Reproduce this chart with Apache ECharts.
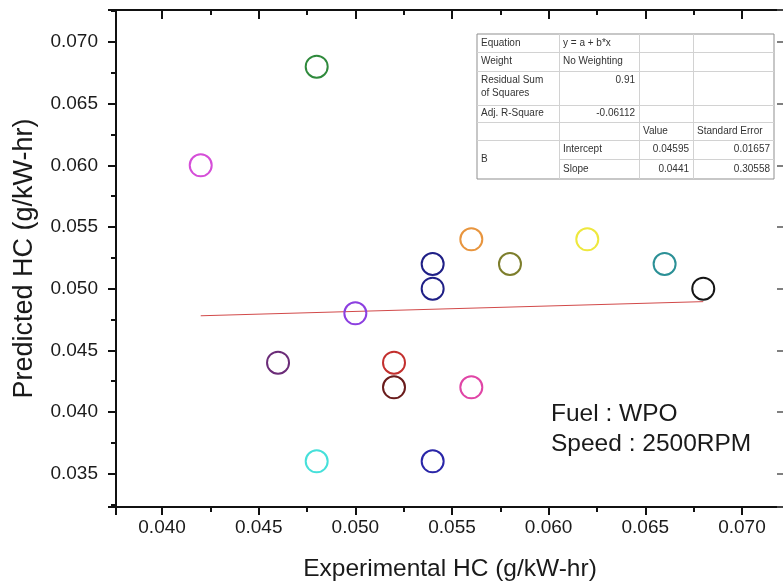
<!DOCTYPE html>
<html>
<head>
<meta charset="utf-8">
<script src="https://cdn.jsdelivr.net/npm/echarts@6/dist/echarts.min.js"></script>
<style>
html, body { margin: 0; padding: 0; background: #fff; }
#main { width: 783px; height: 585px; }
</style>
</head>
<body>
<div id="main"></div>
<script>
// experimental vs predicted HC (g/kW-hr)
var expHC  = [0.042, 0.048, 0.056, 0.058, 0.062, 0.066, 0.068, 0.054, 0.054, 0.050, 0.046, 0.052, 0.052, 0.056, 0.048, 0.054];
var predHC = [0.060, 0.068, 0.054, 0.052, 0.054, 0.052, 0.050, 0.052, 0.050, 0.048, 0.044, 0.044, 0.042, 0.042, 0.036, 0.036];
var pointColors = ['#d54ed8', '#2f8a3c', '#e8953e', '#7d7e2c', '#eee83e', '#2b9096', '#151515', '#1f1f86',
                   '#1f1f86', '#8c3fe0', '#6b2c78', '#c3302e', '#6a1c1c', '#e045a6', '#46e0da', '#2a26a8'];

// linear fit (from the Origin table)
var fitIntercept = 0.04595;
var fitSlope = 0.0441;
var fitRange = [0.042, 0.068];

// fit table text: [col, row, text, align]
var tableText = [
  [0, 0, 'Equation', 'left'], [1, 0, 'y = a + b*x', 'left'],
  [0, 1, 'Weight', 'left'], [1, 1, 'No Weighting', 'left'],
  [0, 2, 'Residual Sum\nof Squares', 'left'], [1, 2, '0.91', 'right'],
  [0, 3, 'Adj. R-Square', 'left'], [1, 3, '-0.06112', 'right'],
  [2, 4, 'Value', 'left'], [3, 4, 'Standard Error', 'left'],
  [0, 5.5, 'B', 'left'],
  [1, 5, 'Intercept', 'left'], [2, 5, '0.04595', 'right'], [3, 5, '0.01657', 'right'],
  [1, 6, 'Slope', 'left'], [2, 6, '0.0441', 'right'], [3, 6, '0.30558', 'right']
];
var noteLines = ['Fuel : WPO', 'Speed : 2500RPM'];

var font = 'Liberation Sans, Arial, sans-serif';
var chart = echarts.init(document.getElementById('main'));

var points = [];
for (var i = 0; i < expHC.length; i++) {
  points.push({
    value: [expHC[i], predHC[i]],
    itemStyle: { color: 'rgba(0,0,0,0)', borderColor: pointColors[i], borderWidth: 2, opacity: 1 }
  });
}
var fitLine = fitRange.map(function (x) { return [x, fitIntercept + fitSlope * x]; });

// table graphic
var colX = [477, 559, 639, 693, 774];
var rowY = [34, 52, 71, 105, 122, 140, 159, 179];
var gfx = [];
gfx.push({ type: 'rect', shape: { x: colX[0], y: rowY[0], width: colX[4] - colX[0], height: rowY[7] - rowY[0] },
  style: { fill: '#fff', stroke: '#8f8f8f', lineWidth: 1 }, z: 10 });
for (var r = 1; r < rowY.length - 1; r++) {
  var x1 = (r === 6) ? colX[1] : colX[0];
  gfx.push({ type: 'line', shape: { x1: x1, y1: rowY[r] + 0.5, x2: colX[4], y2: rowY[r] + 0.5 },
    style: { stroke: '#d2d2d2', lineWidth: 1 }, z: 11 });
}
for (var c = 1; c < colX.length - 1; c++) {
  gfx.push({ type: 'line', shape: { x1: colX[c] + 0.5, y1: rowY[0], x2: colX[c] + 0.5, y2: rowY[7] },
    style: { stroke: '#d2d2d2', lineWidth: 1 }, z: 11 });
}
tableText.forEach(function (t) {
  var col = t[0], row = t[1];
  var yMid;
  if (row === 2) yMid = rowY[2] + 9;
  else if (row === 5.5) yMid = (rowY[5] + rowY[7]) / 2;
  else yMid = (rowY[row] + rowY[row + 1]) / 2;
  var tx = t[3] === 'right' ? colX[col + 1] - 4 : colX[col] + 4;
  gfx.push({ type: 'text', z: 12, x: tx, y: row === 2 ? yMid - 6 : yMid,
    style: { text: t[2], fill: '#333', font: '10px ' + font, align: t[3],
      verticalAlign: row === 2 ? 'top' : 'middle', lineHeight: 13 } });
});
noteLines.forEach(function (s, k) {
  gfx.push({ type: 'text', z: 12, x: 551, y: 414 + k * 30,
    style: { text: s, fill: '#1a1a1a', font: '24.5px ' + font, align: 'left', verticalAlign: 'middle' } });
});

var labelFmt = function (v) { return v.toFixed(3); };
var xRange = [0.037617, 0.072177];
var yRange = [0.032297, 0.072595];

var option = {
  backgroundColor: '#fff',
  animation: false,
  grid: { left: 116, top: 10, width: 668, height: 497, outerBoundsMode: 'none' },
  xAxis: [{
    type: 'value', min: xRange[0], max: xRange[1], minInterval: 0.005, maxInterval: 0.005,
    name: 'Experimental HC (g/kW-hr)', nameLocation: 'middle', nameGap: 50,
    nameTextStyle: { fontSize: 24.5, color: '#1a1a1a', fontFamily: font },
    axisLine: { lineStyle: { color: '#111', width: 2 } },
    axisTick: { length: 8, lineStyle: { color: '#111', width: 2 } },
    minorTick: { show: true, splitNumber: 2, length: 5, lineStyle: { color: '#111', width: 2 } },
    axisLabel: { formatter: labelFmt, fontSize: 19, color: '#1a1a1a', fontFamily: font, margin: 11,
      showMinLabel: false, showMaxLabel: false },
    splitLine: { show: false }
  }, {
    type: 'value', position: 'top', min: xRange[0], max: xRange[1], minInterval: 0.005, maxInterval: 0.005,
    axisLine: { lineStyle: { color: '#111', width: 2 } },
    axisTick: { inside: true, length: 9, lineStyle: { color: '#111', width: 2 } },
    minorTick: { show: true, splitNumber: 2, length: 5, lineStyle: { color: '#111', width: 2 } },
    axisLabel: { show: false },
    splitLine: { show: false }
  }],
  yAxis: [{
    type: 'value', min: yRange[0], max: yRange[1], minInterval: 0.005, maxInterval: 0.005,
    name: 'Predicted HC (g/kW-hr)', nameLocation: 'middle', nameGap: 78,
    nameTextStyle: { fontSize: 27, color: '#1a1a1a', fontFamily: font },
    axisLine: { lineStyle: { color: '#111', width: 2 } },
    axisTick: { length: 8, lineStyle: { color: '#111', width: 2 } },
    minorTick: { show: true, splitNumber: 2, length: 5, lineStyle: { color: '#111', width: 2 } },
    axisLabel: { formatter: labelFmt, fontSize: 19, color: '#1a1a1a', fontFamily: font, margin: 18,
      showMinLabel: false, showMaxLabel: false },
    splitLine: { show: false }
  }, {
    type: 'value', position: 'right', min: yRange[0], max: yRange[1], minInterval: 0.005, maxInterval: 0.005,
    axisLine: { lineStyle: { color: '#111', width: 2 } },
    axisTick: { inside: true, length: 7, lineStyle: { color: '#555', width: 1.5 } },
    axisLabel: { show: false },
    splitLine: { show: false }
  }],
  series: [{
    type: 'line', data: fitLine, symbol: 'none', silent: true,
    lineStyle: { color: '#d24a4a', width: 1 }, z: 2
  }, {
    type: 'scatter', data: points, symbol: 'circle', symbolSize: 22, z: 3
  }],
  graphic: { elements: gfx }
};
chart.setOption(option);
</script>
</body>
</html>
